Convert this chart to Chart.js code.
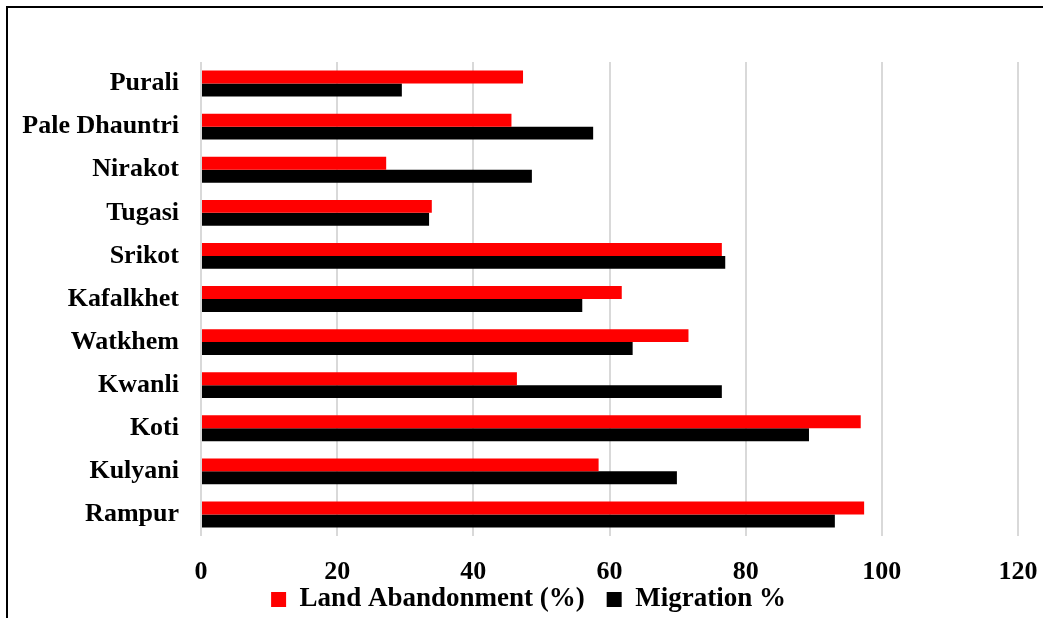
<!DOCTYPE html>
<html>
<head>
<meta charset="utf-8">
<title>Land Abandonment and Migration by Village</title>
<script src="https://cdn.jsdelivr.net/npm/chart.js@4.4.1/dist/chart.umd.min.js"></script>
<style>
  html, body { margin: 0; padding: 0; background: #ffffff; }
  #wrap { position: relative; width: 1043px; height: 618px; overflow: hidden; }
  #frame {
    position: absolute; left: 6px; top: 6px; width: 1100px; height: 700px;
    border-left: 2.5px solid #000; border-top: 2.5px solid #000;
    box-sizing: border-box;
  }
  canvas { position: absolute; left: 0; top: 0; }
</style>
</head>
<body>
<div id="wrap">
  <div id="frame"></div>
  <canvas id="chart" width="1043" height="618"></canvas>
</div>
<script>
// Villages, listed top to bottom
const villages = ['Purali', 'Pale Dhauntri', 'Nirakot', 'Tugasi', 'Srikot', 'Kafalkhet',
                  'Watkhem', 'Kwanli', 'Koti', 'Kulyani', 'Rampur'];

// Share of abandoned farmland per village (%)
const landAbandonment = [47.3, 45.6, 27.2, 33.9, 76.5, 61.8, 71.6, 46.4, 96.9, 58.4, 97.4];

// Share of households with out-migration per village (%)
const migration = [29.5, 57.6, 48.6, 33.5, 77.0, 56.0, 63.4, 76.5, 89.3, 69.9, 93.1];

// Value axis ticks
const xTicks = [0, 20, 40, 60, 80, 100, 120];

const seriesNames = ['Land Abandonment (%)', 'Migration %'];

const serif = '"Liberation Serif", "DejaVu Serif", serif';

// After layout: let the value-axis labels run below the axis box rather than
// being clipped, and nudge the legend row so it is centred under the plot.
const placement = {
  id: 'placement',
  afterLayout(chart) {
    chart.scales.x.bottom = chart.height;
    chart.legend.left += 39;
  }
};

new Chart(document.getElementById('chart'), {
  type: 'bar',
  data: {
    labels: villages,
    datasets: [
      { label: seriesNames[0], data: landAbandonment, backgroundColor: '#ff0000',
        categoryPercentage: 0.6, barPercentage: 1.0 },
      { label: seriesNames[1], data: migration, backgroundColor: '#000000',
        categoryPercentage: 0.6, barPercentage: 1.0 }
    ]
  },
  plugins: [placement],
  options: {
    indexAxis: 'y',
    responsive: false,
    animation: false,
    devicePixelRatio: 1,
    // the legend row hangs a few pixels past the bottom edge so its text sits low
    layout: { padding: { top: 62, right: 25, left: 0, bottom: -5 } },
    scales: {
      x: {
        min: xTicks[0],
        max: xTicks[xTicks.length - 1],
        afterBuildTicks: (scale) => { scale.ticks = xTicks.map(v => ({ value: v })); },
        grid: { color: '#d9d9d9', lineWidth: 2, drawTicks: false },
        border: { display: false },
        ticks: {
          color: '#000', padding: 21,
          font: { family: serif, size: 26, weight: 'bold' }
        },
        afterFit: (scale) => {
          scale.height = 28;
          scale.paddingLeft = 0;
          scale.paddingRight = 0;
        }
      },
      y: {
        grid: { display: false, drawTicks: false },
        border: { display: false },
        ticks: {
          color: '#000', padding: 22,
          font: { family: serif, size: 26, weight: 'bold' }
        },
        afterFit: (scale) => { scale.width = 201; }
      }
    },
    plugins: {
      legend: {
        position: 'bottom',
        labels: {
          color: '#000',
          boxWidth: 15,
          boxHeight: 15,
          padding: 22,
          font: { family: serif, size: 27, weight: 'bold' }
        }
      },
      tooltip: { enabled: false }
    }
  }
});
</script>
</body>
</html>
